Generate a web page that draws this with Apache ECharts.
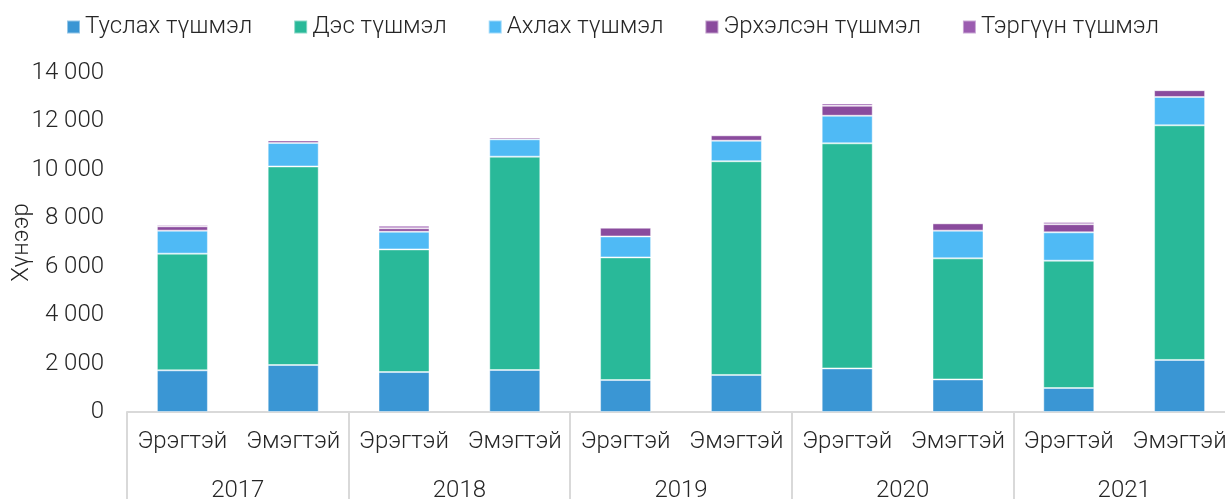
<!DOCTYPE html>
<html>
<head>
<meta charset="utf-8">
<script src="https://cdn.jsdelivr.net/npm/echarts@6/dist/echarts.min.js"></script>
<style>
  html, body { margin: 0; padding: 0; background: #fff; }
  #chart { width: 1225px; height: 499px; }
</style>
</head>
<body>
<div id="chart"></div>
<script>
// ангилал
const years = ['2017', '2018', '2019', '2020', '2021'];
const genders = ['Эрэгтэй', 'Эмэгтэй'];
const categories = years.flatMap(() => genders);

// цуврал бүрийн утгууд (Эрэгтэй, Эмэгтэй жил бүрээр)
const tuslah   = [1720, 1940, 1650, 1735, 1320, 1530, 1800, 1345, 990, 2150];
const des      = [4820, 8200, 5065, 8810, 5065, 8825, 9295, 5000, 5260, 9690];
const ahlah    = [950, 970, 730, 715, 865, 850, 1140, 1145, 1170, 1170];
const erhelsen = [177, 100, 140, 80, 360, 220, 413, 300, 335, 280];
const tergvvn  = [70, 40, 110, 30, 40, 30, 97, 20, 95, 38];

const seriesNames = ['Туслах түшмэл', 'Дэс түшмэл', 'Ахлах түшмэл', 'Эрхэлсэн түшмэл', 'Тэргүүн түшмэл'];
const seriesData = [tuslah, des, ahlah, erhelsen, tergvvn];
const colors = ['#3a96d4', '#29b999', '#4fbaf5', '#8a4b9d', '#9b5cb0'];

const font = 'Roboto';
const textColor = '#262626';
const textStyle = { fontFamily: font, fontWeight: 300, fontSize: 24, color: textColor };

const fmt = v => String(v).replace(/\B(?=(\d{3})+(?!\d))/g, ' ');

const myChart = echarts.init(document.getElementById('chart'));

const option = {
    animation: false,
    color: colors,
    legend: {
        top: 10,
        left: 'center',
        itemWidth: 13,
        itemHeight: 13,
        itemGap: 41,
        icon: 'rect',
        textStyle: textStyle
    },
    grid: {
        left: 127,
        right: -10,
        top: 73,
        bottom: 87,
        outerBoundsMode: 'none'
    },
    xAxis: [
        {
            type: 'category',
            data: categories,
            axisLine: { show: true, lineStyle: { color: '#d9d9d9', width: 2 } },
            axisTick: { show: false },
            axisLabel: Object.assign({ interval: 0, margin: 18 }, textStyle)
        },
        {
            type: 'category',
            position: 'bottom',
            data: years,
            axisLine: { show: false },
            axisTick: {
                show: true,
                interval: 0,
                length: 90,
                lineStyle: { color: '#d9d9d9', width: 2 }
            },
            axisLabel: Object.assign({ interval: 0, margin: 67 }, textStyle)
        }
    ],
    yAxis: {
        type: 'value',
        min: 0,
        max: 14000,
        interval: 2000,
        name: 'Хүнээр',
        nameLocation: 'middle',
        nameRotate: 90,
        nameGap: 93,
        nameMoveOverlap: false,
        nameTextStyle: textStyle,
        axisLine: { show: false },
        axisTick: { show: false },
        splitLine: { show: false },
        axisLabel: Object.assign({ margin: 23, formatter: fmt }, textStyle)
    },
    series: seriesNames.map((name, i) => ({
        name: name,
        type: 'bar',
        stack: 'total',
        xAxisIndex: 0,
        barWidth: 51,
        data: seriesData[i],
        itemStyle: {
            color: colors[i],
            borderColor: 'rgba(255,255,255,0.45)',
            borderWidth: 1
        }
    }))
};

myChart.setOption(option);
</script>
</body>
</html>
